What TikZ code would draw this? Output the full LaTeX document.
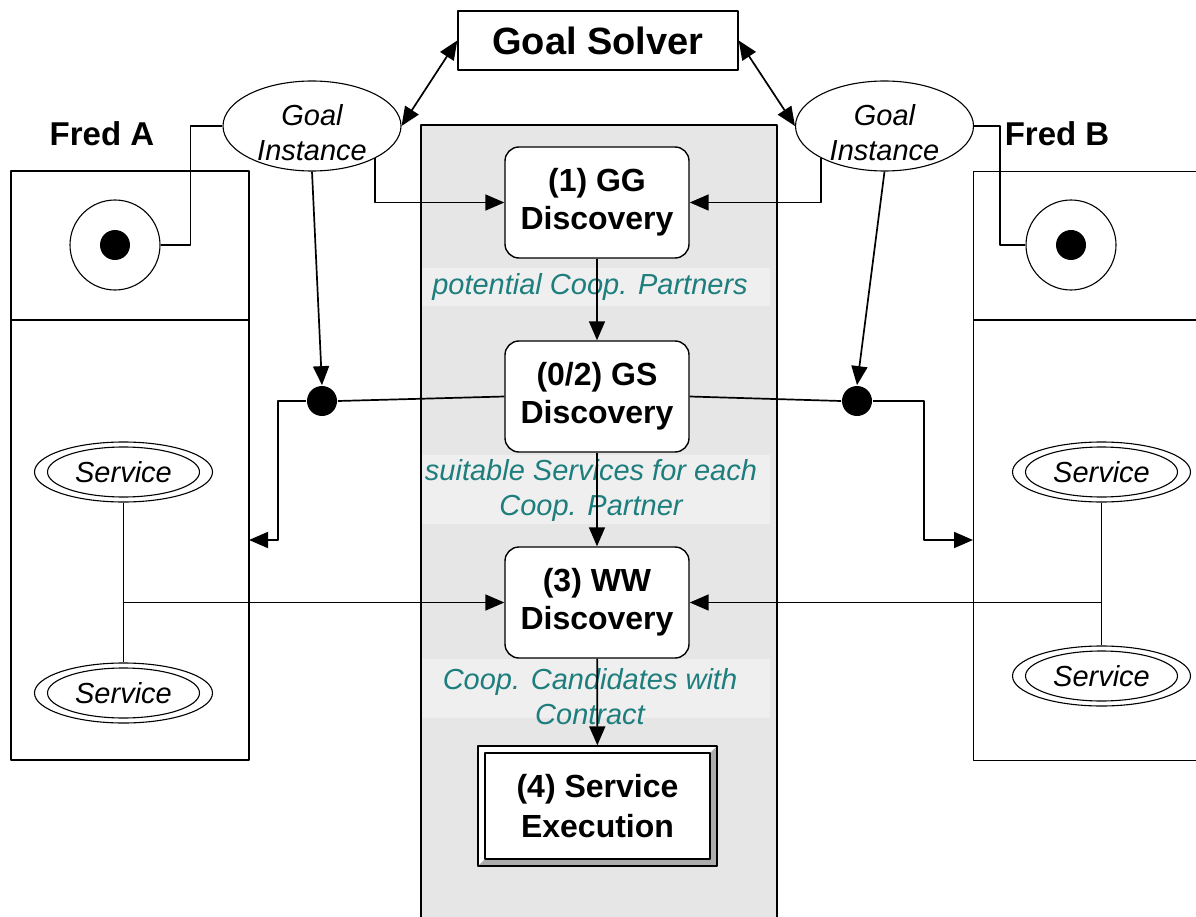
\documentclass[tikz,border=0pt]{standalone}
\usepackage{fontspec}
\setmainfont{Liberation Sans}
\usetikzlibrary{arrows.meta,shapes.geometric}
\definecolor{panelgray}{RGB}{230,230,230}
\definecolor{stripgray}{RGB}{239,239,239}
\definecolor{labteal}{RGB}{30,125,125}
\begin{document}
\begin{tikzpicture}[x=1pt, y=-1pt, line width=1.7pt, line join=round, >={Triangle[length=19pt,width=16pt]},
	actbox/.style={draw, line width=1.4pt, rounded corners=14pt, fill=white, minimum width=184pt, minimum height=111pt, align=center, font=\bfseries\fontsize{32}{38}\selectfont},
	exbox/.style={draw, line width=1.4pt, fill=white, minimum width=239pt, minimum height=120pt, align=center, font=\bfseries\fontsize{32}{40}\selectfont,
		path picture={
			\fill[gray!65] (path picture bounding box.north east) -- (path picture bounding box.south east) -- (path picture bounding box.south west)
				-- ([shift={(7pt,7pt)}]path picture bounding box.south west) -- ([shift={(-7pt,7pt)}]path picture bounding box.south east)
				-- ([shift={(-7pt,-7pt)}]path picture bounding box.north east) -- cycle;
			\draw[line width=1.2pt] ([shift={(7pt,7pt)}]path picture bounding box.south west) rectangle ([shift={(-7pt,-7pt)}]path picture bounding box.north east);
		}},
	goalinst/.style={draw, ellipse, line width=1.1pt, fill=white, minimum width=178pt, minimum height=90pt, inner sep=0pt},
	gitext/.style={align=center, font=\itshape\fontsize{29}{35}\selectfont},
	svc/.style={draw, ellipse, line width=1.1pt, fill=white, minimum width=178pt, minimum height=60pt, inner sep=0pt, font=\itshape\fontsize{29}{32}\selectfont,
		path picture={\draw[line width=1.1pt] (path picture bounding box.center) ellipse (76pt and 25pt);}},
	flowlab/.style={align=center, text=labteal, font=\itshape\fontsize{29}{35}\selectfont},
	fred/.style={font=\bfseries\fontsize{33}{38}\selectfont},
	jdot/.style={circle, fill=black, minimum size=30pt, inner sep=0pt},
	startnode/.style={draw, circle, line width=1.1pt, minimum size=90pt, inner sep=0pt}]
	\useasboundingbox (0,0) rectangle (1196,917);
	\clip (0,0) rectangle (1196,917);
	% partner boxes
	\node[draw, line width=1.4pt, minimum width=238pt, minimum height=589pt, inner sep=0pt] (boxA) at (130,465.5) {};
	\draw[line width=1.4pt] (11,320) -- (249,320);
	\node[draw, line width=1.4pt, minimum width=245pt, minimum height=589pt, inner sep=0pt, anchor=north west] (boxB) at (973,171) {};
	\draw[line width=1.4pt] (973,320) -- (1200,320);
	\node[fred] (fredA) at (102,134) {Fred A};
	\node[fred] (fredB) at (1057,134) {Fred B};
	\node[startnode] (stA) at (115,245) {};
	\node[startnode] (stB) at (1071,245) {};
	\fill (stA.center) circle (15pt);
	\fill (stB.center) circle (15pt);
	% discovery column
	\draw[fill=panelgray, line width=1.4pt] (421,125) rectangle (777,935);
	\fill[stripgray] (422,268) rectangle (770,306);
	\fill[stripgray] (422,455) rectangle (770,524);
	\fill[stripgray] (422,659) rectangle (770,718);
	\node[flowlab] (labGG) at (590,287) {potential Coop. Partners};
	\node[flowlab] (labGS) at (591,490.5) {suitable Services for each\\Coop. Partner};
	\node[flowlab] (labWW) at (590,697) {Coop. Candidates with\\Contract};
	\node[actbox] (gg) at (597,202.5) {(1) GG\\Discovery};
	\node[actbox] (gs) at (597,396.5) {(0/2) GS\\Discovery};
	\node[actbox] (ww) at (597,602.5) {(3) WW\\Discovery};
	\node[exbox] (exec) at (597.5,806) {(4) Service\\Execution};
	% goal solver and goal instances
	\node[draw, line width=1.4pt, minimum width=280pt, minimum height=59pt, font=\bfseries\fontsize{38}{40}\selectfont] (solver) at (598,40.5) {Goal Solver};
	\node[goalinst] (giA) at (312,126) {};
	\node[gitext] (giAt) at (312,133) {Goal\\Instance};
	\node[goalinst] (giB) at (884.5,126) {};
	\node[gitext] (giBt) at (884.5,133) {Goal\\Instance};
	\node[jdot] (jA) at (322,401) {};
	\node[jdot] (jB) at (857,401) {};
	% services
	\node[svc] (svA1) at (123.5,472) {Service};
	\node[svc] (svA2) at (123.5,693) {Service};
	\node[svc] (svB1) at (1101.5,472) {Service};
	\node[svc] (svB2) at (1101.5,676) {Service};
	\coordinate (inA) at (249,540);
	\coordinate (inB) at (973,540);
	% connectors
	\draw[<->] (solver.west) -- (giA.east);
	\draw[<->] (solver.east) -- (giB.west);
	\draw (giA.west) -- ++(-32,0) |- (stA.east);
	\draw (giB.east) -- ++(26,0) |- (stB.west);
	\draw[->] (giA.south east) |- (gg.west);
	\draw[->] (giB.south west) |- (gg.east);
	\draw[->] (giA.south) -- (jA.north);
	\draw[->] (giB.south) -- (jB.north);
	\draw[->] (gg) -- (gs);
	\draw[->] (gs) -- (ww);
	\draw[->] (ww) -- (exec);
	\draw (gs.west) -- (jA.east);
	\draw (gs.east) -- (jB.west);
	\draw[->] (jA.west) -- ++(-28,0) |- (inA);
	\draw[->] (jB.east) -- ++(51,0) |- (inB);
	\draw (svA1) -- (svA2);
	\draw[->] (svA1.south |- ww.west) -- (ww.west);
	\draw (svB1) -- (svB2);
	\draw[->] (svB1.south |- ww.east) -- (ww.east);
\end{tikzpicture}
\end{document}
